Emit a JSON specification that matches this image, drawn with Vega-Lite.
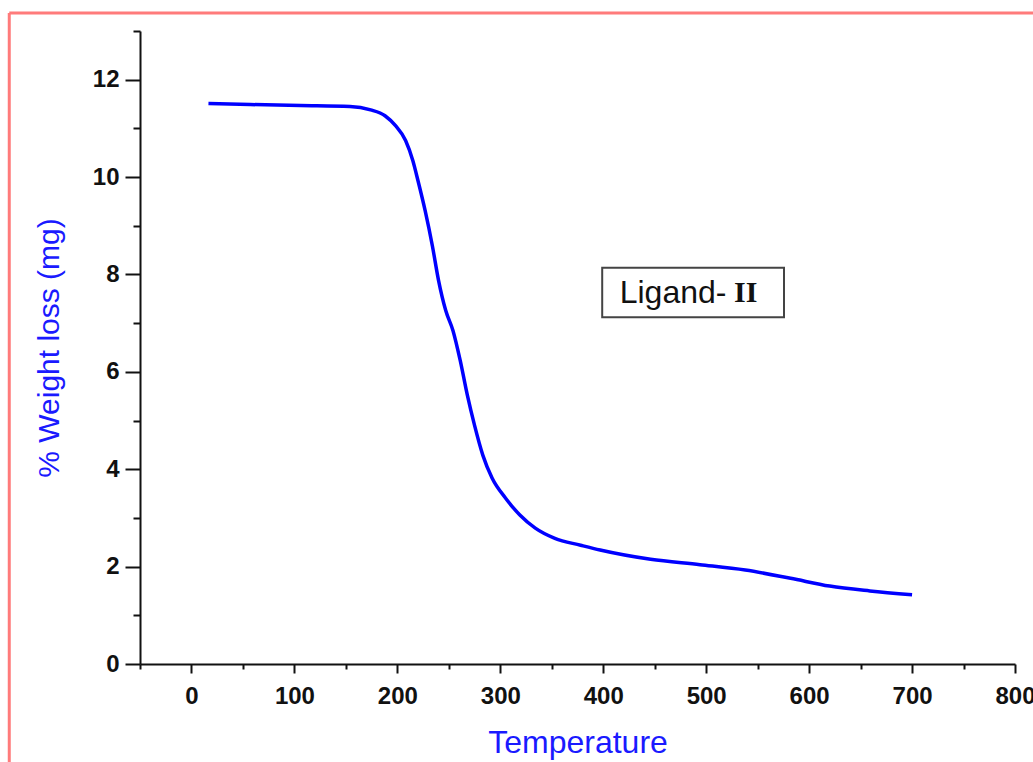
{
  "$schema": "https://vega.github.io/schema/vega-lite/v6.json",
  "width": 875,
  "height": 633,
  "autosize": {"type": "none"},
  "padding": {"left": 140, "top": 31, "right": 18, "bottom": 98},
  "background": "white",
  "config": {"view": {"stroke": null}},
  "datasets": {
    "curve": [
      {"temp": 16.5, "loss": 11.51},
      {"temp": 57, "loss": 11.49},
      {"temp": 106, "loss": 11.47},
      {"temp": 154, "loss": 11.45},
      {"temp": 174, "loss": 11.38},
      {"temp": 188, "loss": 11.26},
      {"temp": 198, "loss": 11.06},
      {"temp": 208, "loss": 10.75},
      {"temp": 215, "loss": 10.34},
      {"temp": 220, "loss": 9.93},
      {"temp": 227, "loss": 9.31},
      {"temp": 234, "loss": 8.59},
      {"temp": 240, "loss": 7.88},
      {"temp": 247, "loss": 7.26},
      {"temp": 254, "loss": 6.85},
      {"temp": 261, "loss": 6.24},
      {"temp": 268, "loss": 5.52},
      {"temp": 275, "loss": 4.9},
      {"temp": 283, "loss": 4.29},
      {"temp": 292, "loss": 3.82},
      {"temp": 305, "loss": 3.41},
      {"temp": 319, "loss": 3.06},
      {"temp": 334, "loss": 2.79},
      {"temp": 353, "loss": 2.58},
      {"temp": 378, "loss": 2.44},
      {"temp": 397, "loss": 2.34},
      {"temp": 446, "loss": 2.15},
      {"temp": 494, "loss": 2.04},
      {"temp": 538, "loss": 1.93},
      {"temp": 582, "loss": 1.76},
      {"temp": 620, "loss": 1.6},
      {"temp": 659, "loss": 1.5},
      {"temp": 700, "loss": 1.42}
    ],
    "box": [{"x1": 399, "x2": 575.6, "y1": 7.12, "y2": 8.14}],
    "label1": [{"x": 416, "y": 7.62, "t": "Ligand-"}],
    "label2": [{"x": 527, "y": 7.62, "t": "II"}],
    "frame": [
      {"fx": -177, "fx2": -177, "fy": -3, "fy2": 13.37},
      {"fx": -177, "fx2": 860, "fy": 13.37, "fy2": 13.37}
    ]
  },
  "layer": [
    {
      "data": {"name": "box"},
      "mark": {"type": "rect", "fill": "white", "stroke": "#444444", "strokeWidth": 2},
      "encoding": {
        "x": {"field": "x1", "type": "quantitative", "scale": {"domain": [-50, 800], "nice": false, "zero": false},
          "axis": {
            "values": [-50, 0, 50, 100, 150, 200, 250, 300, 350, 400, 450, 500, 550, 600, 650, 700, 750, 800],
            "labelExpr": "datum.value % 100 === 0 ? datum.label : ''",
            "format": "d",
            "grid": false,
            "domainColor": "#111111",
            "domainWidth": 2,
            "tickColor": "#111111",
            "tickWidth": 2,
            "tickSize": {"condition": {"test": "datum.value % 100 === 0", "value": 9}, "value": 5},
            "labelPadding": 11,
            "labelFont": "Liberation Sans",
            "labelFontWeight": "bold",
            "labelFontSize": 24,
            "labelColor": "#111111",
            "labelFlush": false,
            "labelOverlap": false,
            "title": "Temperature",
            "titleFont": "Liberation Sans",
            "titleFontSize": 32,
            "titleFontWeight": "normal",
            "titleColor": "#1a1aff",
            "titlePadding": 19
          }},
        "x2": {"field": "x2"},
        "y": {"field": "y1", "type": "quantitative", "scale": {"domain": [0, 13], "nice": false},
          "axis": {
            "values": [0, 1, 2, 3, 4, 5, 6, 7, 8, 9, 10, 11, 12, 13],
            "labelExpr": "datum.value % 2 === 0 ? datum.label : ''",
            "grid": false,
            "domainColor": "#111111",
            "domainWidth": 2,
            "tickColor": "#111111",
            "tickWidth": 2,
            "tickSize": {"condition": {"test": "datum.value % 2 === 0", "value": 15}, "value": 7},
            "labelPadding": 6,
            "labelFont": "Liberation Sans",
            "labelFontWeight": "bold",
            "labelFontSize": 24,
            "labelColor": "#111111",
            "labelFlush": false,
            "labelOverlap": false,
            "title": "% Weight loss (mg)",
            "titleFont": "Liberation Sans",
            "titleFontSize": 30,
            "titleFontWeight": "normal",
            "titleColor": "#1a1aff",
            "titlePadding": 28
          }},
        "y2": {"field": "y2"}
      }
    },
    {
      "data": {"name": "frame"},
      "mark": {"type": "rule", "color": "#ff7b7b", "strokeWidth": 3, "clip": false},
      "encoding": {
        "x": {"field": "fx", "type": "quantitative"},
        "x2": {"field": "fx2"},
        "y": {"field": "fy", "type": "quantitative"},
        "y2": {"field": "fy2"}
      }
    },
    {
      "data": {"name": "curve"},
      "mark": {"type": "line", "color": "#0000ff", "strokeWidth": 3.5, "interpolate": "monotone"},
      "encoding": {
        "x": {"field": "temp", "type": "quantitative"},
        "y": {"field": "loss", "type": "quantitative"}
      }
    },
    {
      "data": {"name": "label1"},
      "mark": {"type": "text", "align": "left", "baseline": "middle", "font": "Liberation Sans", "fontSize": 32, "color": "#111111"},
      "encoding": {
        "x": {"field": "x", "type": "quantitative"},
        "y": {"field": "y", "type": "quantitative"},
        "text": {"field": "t"}
      }
    },
    {
      "data": {"name": "label2"},
      "mark": {"type": "text", "align": "left", "baseline": "middle", "font": "Liberation Serif", "fontWeight": "bold", "fontSize": 30, "color": "#111111"},
      "encoding": {
        "x": {"field": "x", "type": "quantitative"},
        "y": {"field": "y", "type": "quantitative"},
        "text": {"field": "t"}
      }
    }
  ]
}
